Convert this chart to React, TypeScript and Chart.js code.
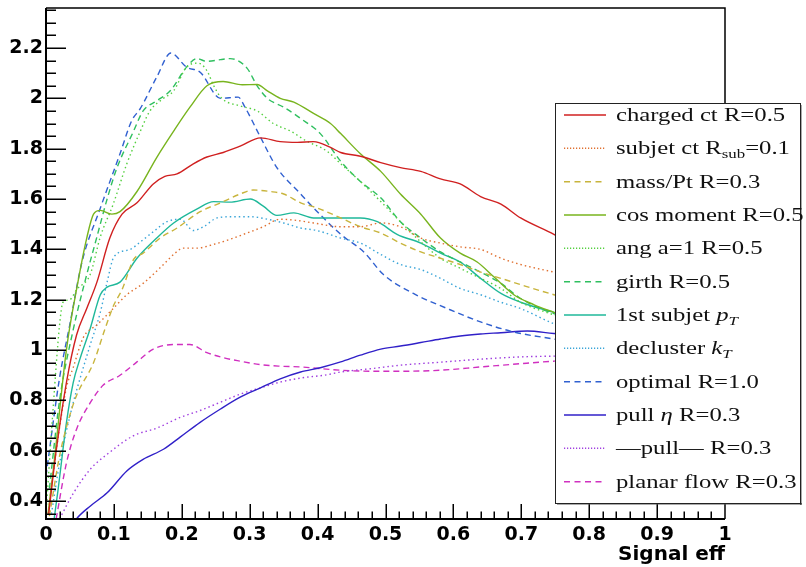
import { useEffect, useRef } from "react";
import { Chart, registerables } from "chart.js";

Chart.register(...registerables);

type Pt = [number, number];

// Background rejection vs signal efficiency, one curve per jet observable
const chargedCt: Pt[] = [
  [0.004, 0.35], [0.015, 0.6], [0.03, 0.87], [0.045, 1.06], [0.06, 1.165], [0.075, 1.27],
  [0.094, 1.445], [0.112, 1.54], [0.134, 1.585], [0.158, 1.66], [0.175, 1.69], [0.193, 1.7],
  [0.217, 1.74], [0.237, 1.767], [0.261, 1.785], [0.286, 1.81], [0.316, 1.843], [0.345, 1.828],
  [0.37, 1.825], [0.394, 1.828], [0.419, 1.805], [0.434, 1.785], [0.463, 1.77], [0.493, 1.745],
  [0.522, 1.725], [0.552, 1.71], [0.581, 1.68], [0.61, 1.66], [0.64, 1.61], [0.67, 1.58],
  [0.699, 1.525], [0.748, 1.46], [0.85, 1.3], [1.0, 1.05],
];

const subjetCt: Pt[] = [
  [0.003, 0.35], [0.015, 0.6], [0.03, 0.85], [0.04, 0.93], [0.055, 1.05], [0.075, 1.1],
  [0.099, 1.165], [0.119, 1.22], [0.143, 1.265], [0.173, 1.34], [0.188, 1.38], [0.202, 1.405],
  [0.222, 1.405], [0.247, 1.42], [0.271, 1.44], [0.296, 1.465], [0.32, 1.49], [0.345, 1.52],
  [0.37, 1.515], [0.394, 1.505], [0.434, 1.49], [0.463, 1.49], [0.493, 1.505], [0.522, 1.49],
  [0.552, 1.445], [0.581, 1.425], [0.61, 1.41], [0.64, 1.4], [0.67, 1.365], [0.699, 1.34],
  [0.748, 1.31], [0.85, 1.25], [1.0, 1.1],
];

const massPt: Pt[] = [
  [0.005, 0.34], [0.02, 0.58], [0.035, 0.74], [0.045, 0.82], [0.07, 0.95], [0.087, 1.085],
  [0.1, 1.18], [0.112, 1.24], [0.129, 1.36], [0.143, 1.385], [0.168, 1.445], [0.193, 1.485],
  [0.227, 1.55], [0.257, 1.585], [0.286, 1.62], [0.305, 1.636], [0.33, 1.63], [0.35, 1.62],
  [0.375, 1.585], [0.399, 1.565], [0.434, 1.525], [0.463, 1.49], [0.493, 1.465], [0.522, 1.425],
  [0.552, 1.39], [0.581, 1.365], [0.61, 1.34], [0.64, 1.31], [0.67, 1.285], [0.699, 1.26],
  [0.748, 1.22], [0.85, 1.15], [1.0, 1.0],
];

const cosMoment: Pt[] = [
  [0.003, 0.35], [0.011, 0.53], [0.03, 1.0], [0.047, 1.27], [0.06, 1.445], [0.07, 1.54],
  [0.08, 1.555], [0.097, 1.54], [0.109, 1.55], [0.134, 1.63], [0.163, 1.765], [0.188, 1.87],
  [0.212, 1.965], [0.237, 2.05], [0.261, 2.067], [0.289, 2.054], [0.311, 2.055], [0.326, 2.03],
  [0.345, 2.0], [0.365, 1.985], [0.394, 1.94], [0.419, 1.9], [0.434, 1.86], [0.463, 1.78],
  [0.493, 1.71], [0.522, 1.62], [0.552, 1.54], [0.581, 1.445], [0.61, 1.385], [0.635, 1.35],
  [0.66, 1.29], [0.689, 1.22], [0.719, 1.18], [0.748, 1.15], [0.85, 1.05], [1.0, 0.9],
];

const angA1: Pt[] = [
  [0.0, 0.35], [0.01, 0.75], [0.02, 1.1], [0.025, 1.19], [0.035, 1.2], [0.045, 1.24],
  [0.065, 1.3], [0.08, 1.45], [0.099, 1.58], [0.119, 1.74], [0.139, 1.87], [0.153, 1.95],
  [0.173, 2.0], [0.188, 2.03], [0.207, 2.124], [0.224, 2.14], [0.237, 2.11], [0.247, 2.05],
  [0.259, 2.0], [0.286, 1.97], [0.311, 1.95], [0.335, 1.9], [0.36, 1.87], [0.384, 1.83],
  [0.414, 1.79], [0.434, 1.74], [0.463, 1.67], [0.493, 1.59], [0.522, 1.51], [0.552, 1.43],
  [0.581, 1.365], [0.61, 1.325], [0.64, 1.285], [0.67, 1.245], [0.699, 1.19], [0.748, 1.14],
  [0.85, 1.05], [1.0, 0.9],
];

const girth: Pt[] = [
  [0.005, 0.45], [0.02, 0.8], [0.04, 1.08], [0.06, 1.3], [0.075, 1.45], [0.09, 1.6],
  [0.104, 1.72], [0.129, 1.87], [0.143, 1.95], [0.163, 1.99], [0.183, 2.03], [0.207, 2.124],
  [0.222, 2.158], [0.237, 2.147], [0.257, 2.154], [0.271, 2.158], [0.296, 2.12], [0.311, 2.05],
  [0.326, 2.0], [0.35, 1.965], [0.375, 1.92], [0.404, 1.86], [0.434, 1.75], [0.463, 1.67],
  [0.493, 1.605], [0.522, 1.51], [0.552, 1.445], [0.581, 1.39], [0.61, 1.35], [0.64, 1.31],
  [0.67, 1.265], [0.699, 1.205], [0.748, 1.145], [0.85, 1.1], [1.0, 0.9],
];

const subjetPt: Pt[] = [
  [0.012, 0.33], [0.018, 0.45], [0.03, 0.71], [0.04, 0.87], [0.05, 0.965], [0.065, 1.085],
  [0.08, 1.22], [0.09, 1.25], [0.109, 1.27], [0.134, 1.365], [0.163, 1.445], [0.188, 1.505],
  [0.222, 1.56], [0.247, 1.59], [0.271, 1.588], [0.301, 1.6], [0.32, 1.572], [0.34, 1.535],
  [0.365, 1.545], [0.394, 1.525], [0.434, 1.525], [0.463, 1.525], [0.488, 1.51], [0.517, 1.46],
  [0.552, 1.425], [0.581, 1.385], [0.61, 1.35], [0.64, 1.285], [0.67, 1.225], [0.699, 1.19],
  [0.748, 1.15], [0.85, 1.07], [1.0, 0.95],
];

const declusterKt: Pt[] = [
  [0.008, 0.35], [0.02, 0.55], [0.04, 0.79], [0.05, 0.886], [0.065, 1.02], [0.08, 1.15],
  [0.09, 1.27], [0.1, 1.37], [0.124, 1.4], [0.139, 1.43], [0.158, 1.47], [0.178, 1.51],
  [0.198, 1.52], [0.217, 1.475], [0.232, 1.49], [0.252, 1.525], [0.276, 1.53], [0.301, 1.53],
  [0.326, 1.52], [0.35, 1.505], [0.375, 1.485], [0.399, 1.475], [0.434, 1.445], [0.463, 1.425],
  [0.493, 1.38], [0.522, 1.34], [0.552, 1.32], [0.581, 1.285], [0.61, 1.245], [0.64, 1.22],
  [0.67, 1.19], [0.699, 1.165], [0.748, 1.105], [0.85, 1.02], [1.0, 0.9],
];

const optimalR: Pt[] = [
  [0.0, 0.5], [0.02, 0.89], [0.035, 1.1], [0.053, 1.35], [0.08, 1.564], [0.109, 1.78],
  [0.126, 1.91], [0.139, 1.96], [0.163, 2.084], [0.184, 2.18], [0.207, 2.124], [0.227, 2.104],
  [0.257, 2.0], [0.283, 2.005], [0.293, 1.965], [0.316, 1.845], [0.34, 1.725], [0.375, 1.62],
  [0.394, 1.565], [0.434, 1.46], [0.468, 1.39], [0.497, 1.3], [0.541, 1.225], [0.591, 1.165],
  [0.64, 1.112], [0.689, 1.072], [0.748, 1.044], [0.85, 1.0], [1.0, 0.95],
];

const pullEta: Pt[] = [
  [0.04, 0.31], [0.045, 0.33], [0.065, 0.38], [0.09, 0.433], [0.119, 0.52], [0.143, 0.566],
  [0.173, 0.606], [0.198, 0.655], [0.227, 0.713], [0.257, 0.766], [0.286, 0.813], [0.316, 0.85],
  [0.345, 0.886], [0.375, 0.913], [0.404, 0.93], [0.434, 0.953], [0.463, 0.98], [0.493, 1.004],
  [0.522, 1.016], [0.552, 1.03], [0.581, 1.044], [0.61, 1.056], [0.64, 1.064], [0.67, 1.069],
  [0.709, 1.076], [0.748, 1.066], [0.85, 1.05], [1.0, 1.0],
];

const absPull: Pt[] = [
  [0.02, 0.33], [0.04, 0.43], [0.065, 0.526], [0.09, 0.586], [0.129, 0.66], [0.163, 0.69],
  [0.198, 0.733], [0.227, 0.76], [0.257, 0.793], [0.286, 0.825], [0.316, 0.85], [0.345, 0.873],
  [0.375, 0.889], [0.414, 0.902], [0.434, 0.913], [0.478, 0.926], [0.522, 0.94], [0.581, 0.952],
  [0.64, 0.964], [0.699, 0.973], [0.748, 0.976], [0.85, 0.98], [1.0, 0.99],
];

const planarFlow: Pt[] = [
  [0.015, 0.33], [0.03, 0.55], [0.045, 0.686], [0.065, 0.79], [0.084, 0.86], [0.109, 0.9],
  [0.134, 0.953], [0.158, 1.004], [0.188, 1.022], [0.212, 1.022], [0.237, 0.99], [0.261, 0.97],
  [0.286, 0.956], [0.316, 0.942], [0.345, 0.936], [0.375, 0.933], [0.434, 0.92], [0.478, 0.916],
  [0.522, 0.916], [0.581, 0.92], [0.64, 0.933], [0.699, 0.946], [0.748, 0.956], [0.85, 0.97],
  [1.0, 0.98],
];

// Legend labels as rich-text runs (subscripts and math italics)
type Run = { t: string; it?: boolean; sub?: boolean };
const labels: Run[][] = [
  [{ t: "charged ct R=0.5" }],
  [{ t: "subjet ct R" }, { t: "sub", sub: true }, { t: "=0.1" }],
  [{ t: "mass/Pt R=0.3" }],
  [{ t: "cos moment R=0.5" }],
  [{ t: "ang a=1 R=0.5" }],
  [{ t: "girth R=0.5" }],
  [{ t: "1st subjet " }, { t: "p", it: true }, { t: "T", it: true, sub: true }],
  [{ t: "decluster " }, { t: "k", it: true }, { t: "T", it: true, sub: true }],
  [{ t: "optimal R=1.0" }],
  [{ t: "pull " }, { t: "η", it: true }, { t: " R=0.3" }],
  [{ t: "—pull— R=0.3" }],
  [{ t: "planar flow R=0.3" }],
];

const seriesData: Pt[][] = [
  chargedCt, subjetCt, massPt, cosMoment, angA1, girth,
  subjetPt, declusterKt, optimalR, pullEta, absPull, planarFlow,
];

type Style = "solid" | "dot" | "dash";
const colors = [
  "#d02020", "#e07030", "#c8b43c", "#78b41e", "#55d040", "#2fbf5f",
  "#1fb89a", "#3aa5d8", "#3060d0", "#3020c8", "#a040e0", "#d030c0",
];
const styles: Style[] = [
  "solid", "dot", "dash", "solid", "dot", "dash",
  "solid", "dot", "dash", "solid", "dot", "dash",
];

const plotDash = (s: Style) => (s === "dot" ? [1.5, 3] : s === "dash" ? [6, 4] : []);
const keyDash = (s: Style) => (s === "dot" ? [1.2, 1.8] : s === "dash" ? [6, 4.5] : []);

const SERIF = '"Liberation Serif", "Times New Roman", serif';
const SX = 1.3;

const frameAndTicks = {
  id: "frameAndTicks",
  afterDatasetsDraw(chart: any) {
    const { ctx, chartArea: a, scales } = chart;
    const xs = scales.x;
    const ys = scales.y;
    ctx.save();
    ctx.strokeStyle = "#000";
    ctx.setLineDash([]);
    ctx.lineWidth = 1.5;
    ctx.beginPath();
    ctx.moveTo(a.left, a.top);
    ctx.lineTo(a.right, a.top);
    ctx.lineTo(a.right, a.bottom);
    ctx.stroke();
    ctx.lineWidth = 2;
    ctx.beginPath();
    ctx.moveTo(a.left, a.top);
    ctx.lineTo(a.left, a.bottom);
    ctx.lineTo(a.right, a.bottom);
    ctx.stroke();
    ctx.lineWidth = 1.5;
    ctx.beginPath();
    for (let i = 0; i <= 60; i++) {
      const v = i * 0.05;
      if (v < ys.min || v > ys.max) continue;
      const py = Math.round(ys.getPixelForValue(v)) + 0.25;
      const len = i % 4 === 0 ? 20 : 10;
      ctx.moveTo(a.left, py);
      ctx.lineTo(a.left + len, py);
    }
    for (let j = 1; j < 50; j++) {
      const px = Math.round(xs.getPixelForValue(j * 0.02)) + 0.25;
      const len = j % 5 === 0 ? 15 : 7.5;
      ctx.moveTo(px, a.bottom);
      ctx.lineTo(px, a.bottom - len);
    }
    ctx.stroke();
    ctx.restore();
  },
};

const keyBox = {
  id: "keyBox",
  afterDraw(chart: any) {
    const { ctx } = chart;
    const bx = 555, by = 103, bw = 245, bh = 400;
    ctx.save();
    ctx.fillStyle = "#fff";
    ctx.fillRect(bx, by, bw, bh);
    ctx.fillStyle = "#555";
    ctx.fillRect(bx + bw, by + 2, 1.5, bh);
    ctx.fillRect(bx + 2, by + bh, bw, 1.5);
    ctx.strokeStyle = "#222";
    ctx.lineWidth = 1;
    ctx.strokeRect(bx + 0.5, by + 0.5, bw, bh);
    const rowH = bh / labels.length;
    labels.forEach((runs, i) => {
      const cy = by + 12 + rowH * i;
      ctx.strokeStyle = colors[i];
      ctx.lineWidth = 1.5;
      ctx.setLineDash(keyDash(styles[i]));
      ctx.beginPath();
      ctx.moveTo(564, cy);
      ctx.lineTo(606, cy);
      ctx.stroke();
      ctx.setLineDash([]);
      ctx.fillStyle = "#111";
      ctx.textBaseline = "alphabetic";
      let x = 616;
      const base = cy + 6;
      for (const r of runs) {
        const size = r.sub ? 13 : 19;
        ctx.font = `${r.it ? "italic " : ""}${size}px ${SERIF}`;
        const w = ctx.measureText(r.t).width * SX;
        ctx.save();
        ctx.translate(x, base + (r.sub ? 4 : 0));
        ctx.scale(SX, 1);
        ctx.fillText(r.t, 0, 0);
        ctx.restore();
        x += w;
      }
    });
    ctx.restore();
  },
};

const fmt = (v: any) => String(Number(Number(v).toFixed(2)));

export default function App() {
  const ref = useRef<HTMLCanvasElement | null>(null);

  useEffect(() => {
    if (!ref.current) return;
    const chart = new Chart(ref.current, {
      type: "line",
      data: {
        datasets: seriesData.map((d, i) => ({
          label: labels[i].map((r) => r.t).join(""),
          data: d.map(([x, y]) => ({ x, y })),
          borderColor: colors[i],
          backgroundColor: colors[i],
          borderWidth: 1.4,
          borderDash: plotDash(styles[i]),
          pointRadius: 0,
          cubicInterpolationMode: "monotone" as const,
          fill: false,
        })),
      },
      options: {
        animation: false,
        responsive: false,
        layout: { padding: { top: 8, right: 81, left: 0, bottom: 0 } },
        plugins: { legend: { display: false }, tooltip: { enabled: false } },
        scales: {
          x: {
            type: "linear",
            min: 0,
            max: 1,
            grid: { display: false, drawTicks: false },
            border: { display: false },
            ticks: {
              stepSize: 0.1,
              autoSkip: false,
              maxRotation: 0,
              includeBounds: false,
              padding: 5,
              color: "#000",
              font: { family: '"DejaVu Sans"', weight: "bold", size: 19 },
              callback: fmt,
            },
            title: {
              display: true,
              text: "Signal eff",
              align: "end",
              color: "#000",
              font: { family: '"DejaVu Sans"', weight: "bold", size: 20 },
              padding: { top: 0, bottom: 0 },
            },
            afterFit: (s: any) => {
              s.height = 48;
              s.paddingLeft = 0;
              s.paddingRight = 0;
            },
          },
          y: {
            type: "linear",
            min: 0.329,
            max: 2.359,
            grid: { display: false, drawTicks: false },
            border: { display: false },
            ticks: {
              stepSize: 0.2,
              includeBounds: false,
              autoSkip: false,
              padding: 3,
              color: "#000",
              font: { family: '"DejaVu Sans"', weight: "bold", size: 19 },
              callback: fmt,
            },
            afterFit: (s: any) => {
              s.width = 46;
              s.paddingTop = 0;
              s.paddingBottom = 0;
            },
          },
        },
      },
      plugins: [frameAndTicks, keyBox],
    } as any);
    return () => chart.destroy();
  }, []);

  return (
    <div style={{ position: "absolute", left: 0, top: 0, width: 806, height: 567, background: "#fff" }}>
      <canvas ref={ref} width={806} height={567} />
    </div>
  );
}
